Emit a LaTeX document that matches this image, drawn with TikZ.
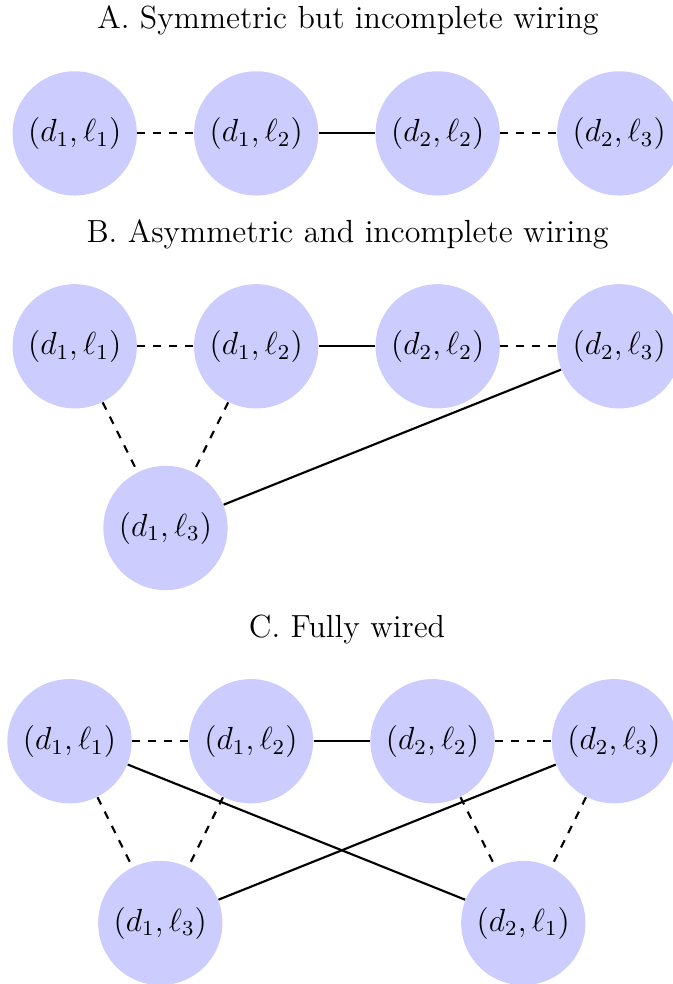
\documentclass[tikz,border=0pt]{standalone}
\begin{document}
\begin{tikzpicture}[x=0.375pt,y=-0.375pt,
  vtx/.style={circle,fill=blue!20,draw=none,minimum size=46.6pt,inner sep=0pt,font=\fontsize{11.5}{13.5}\selectfont},
  ttl/.style={anchor=base,inner sep=0pt,font=\fontsize{12}{14}\selectfont},
  solidw/.style={thick},
  dashw/.style={thick,dashed}]
\useasboundingbox (0,0) rectangle (673,984);
\clip (0,0) rectangle (673,984);
% A
\node[ttl] (ta) at (348,29) {A. Symmetric but incomplete wiring};
\node[vtx] (a1) at (74.7,133.4) {$(d_1,\ell_1)$};
\node[vtx] (a2) at (256.2,133.4) {$(d_1,\ell_2)$};
\node[vtx] (a3) at (437.7,133.4) {$(d_2,\ell_2)$};
\node[vtx] (a4) at (619.2,133.4) {$(d_2,\ell_3)$};
\draw[dashw] (a1) -- (a2);
\draw[solidw] (a2) -- (a3);
\draw[dashw] (a3) -- (a4);
% B
\node[ttl] (tb) at (347.5,242) {B. Asymmetric and incomplete wiring};
\node[vtx] (b1) at (74.7,346.3) {$(d_1,\ell_1)$};
\node[vtx] (b2) at (256.2,346.3) {$(d_1,\ell_2)$};
\node[vtx] (b3) at (437.7,346.3) {$(d_2,\ell_2)$};
\node[vtx] (b4) at (619.2,346.3) {$(d_2,\ell_3)$};
\node[vtx] (b5) at (165.5,528) {$(d_1,\ell_3)$};
\draw[dashw] (b1) -- (b2);
\draw[solidw] (b2) -- (b3);
\draw[dashw] (b3) -- (b4);
\draw[dashw] (b1) -- (b5);
\draw[dashw] (b2) -- (b5);
\draw[solidw] (b5) -- (b4);
% C
\node[ttl] (tc) at (347,637) {C. Fully wired};
\node[vtx] (c1) at (69.5,741.2) {$(d_1,\ell_1)$};
\node[vtx] (c2) at (251,741.2) {$(d_1,\ell_2)$};
\node[vtx] (c3) at (432.5,741.2) {$(d_2,\ell_2)$};
\node[vtx] (c4) at (614,741.2) {$(d_2,\ell_3)$};
\node[vtx] (c5) at (160.3,923) {$(d_1,\ell_3)$};
\node[vtx] (c6) at (523.3,923) {$(d_2,\ell_1)$};
\draw[dashw] (c1) -- (c2);
\draw[solidw] (c2) -- (c3);
\draw[dashw] (c3) -- (c4);
\draw[dashw] (c1) -- (c5);
\draw[dashw] (c2) -- (c5);
\draw[dashw] (c3) -- (c6);
\draw[dashw] (c4) -- (c6);
\draw[solidw] (c1) -- (c6);
\draw[solidw] (c5) -- (c4);
\end{tikzpicture}
\end{document}
